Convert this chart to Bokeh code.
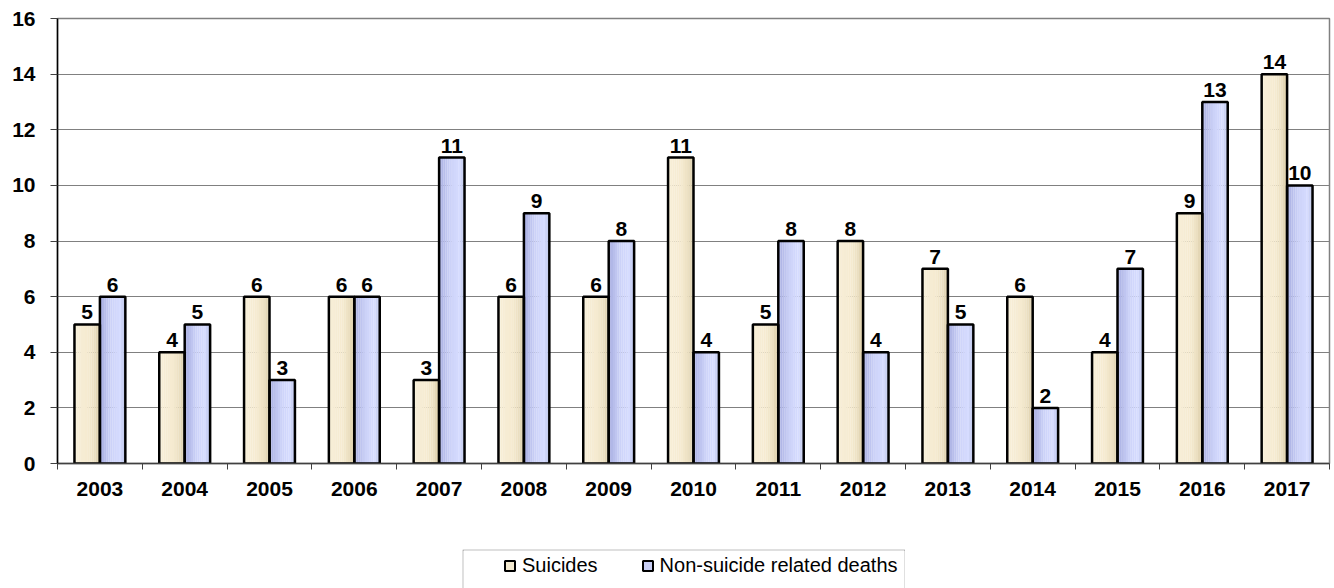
from bokeh.plotting import figure
from bokeh.models import FixedTicker, Range1d, Legend, LegendItem, Spacer
from bokeh.layouts import column, row
from bokeh.embed import file_html
from bokeh.resources import INLINE
from bokeh.core.properties import value
import numpy as np

years = ["2003", "2004", "2005", "2006", "2007", "2008", "2009", "2010",
         "2011", "2012", "2013", "2014", "2015", "2016", "2017"]
suicides = [5, 4, 6, 6, 3, 6, 6, 11, 5, 8, 7, 6, 4, 9, 14]
non_suicide = [6, 5, 3, 6, 11, 9, 8, 4, 8, 4, 5, 2, 7, 13, 10]
series_names = ["Suicides", "Non-suicide related deaths"]

FONT = "Liberation Sans"
BW = 0.30  # bar width in category units

p = figure(width=1334, height=549, output_backend="svg", toolbar_location=None,
           x_range=Range1d(0, len(years)), y_range=Range1d(0, 16),
           min_border_left=57, min_border_top=18, min_border_bottom=86,
           min_border_right=5)
p.background_fill_color = "white"
p.outline_line_color = "#808080"
p.outline_line_width = 1.5

centers = np.arange(len(years)) + 0.5
xs_s = centers - BW / 2
xs_n = centers + BW / 2


def hex_mix(c1, c2, t):
    a = [int(c1[i:i + 2], 16) for i in (1, 3, 5)]
    b = [int(c2[i:i + 2], 16) for i in (1, 3, 5)]
    return "#%02x%02x%02x" % tuple(round(a[k] + (b[k] - a[k]) * t) for k in range(3))


def grad(stops, t):
    for (t0, c0), (t1, c1) in zip(stops, stops[1:]):
        if t <= t1:
            return hex_mix(c0, c1, (t - t0) / (t1 - t0) if t1 > t0 else 0)
    return stops[-1][1]


stops_s = [(0.0, "#f8efd8"), (0.55, "#f5ead0"), (0.8, "#ebdfc0"), (1.0, "#d8caa5")]
stops_n = [(0.0, "#a6ade0"), (0.45, "#ccd2f8"), (0.8, "#d6dcff"), (1.0, "#b8c2e6")]

N = 12
for xs, vals, stops in ((xs_s, suicides, stops_s), (xs_n, non_suicide, stops_n)):
    sw = BW / N
    for k in range(N):
        t = (k + 0.5) / N
        p.vbar(x=xs - BW / 2 + sw * (k + 0.5), top=vals, bottom=0, width=sw * 1.05,
               fill_color=grad(stops, t), line_color=None)

p.vbar(x=xs_s, top=suicides, bottom=0, width=BW, fill_color=None,
       line_color="black", line_width=2.5)
p.vbar(x=xs_n, top=non_suicide, bottom=0, width=BW, fill_color=None,
       line_color="black", line_width=2.5)

# value labels
for xs, vals in ((xs_s, suicides), (xs_n, non_suicide)):
    p.text(x=xs, y=vals, text=[str(v) for v in vals], text_align="center",
           text_baseline="bottom", y_offset=-5, text_font=value(FONT),
           text_font_style="bold", text_font_size="21px", text_color="black")

# axes
p.yaxis.ticker = FixedTicker(ticks=list(range(0, 17, 2)))
p.yaxis.axis_line_color = "black"
p.yaxis.axis_line_width = 1.5
p.yaxis.major_tick_out = 7
p.yaxis.major_tick_in = 0
p.yaxis.major_tick_line_color = "#404040"
p.yaxis.minor_tick_line_color = None
p.yaxis.major_label_text_font = FONT
p.yaxis.major_label_text_font_style = "bold"
p.yaxis.major_label_text_font_size = "21px"
p.yaxis.major_label_text_color = "black"
p.yaxis.major_label_standoff = 15

p.xaxis.ticker = FixedTicker(ticks=list(centers), minor_ticks=list(range(0, len(years) + 1)))
p.xaxis.major_label_overrides = {float(c): y for c, y in zip(centers, years)}
p.xaxis.major_tick_line_color = None
p.xaxis.minor_tick_out = 6
p.xaxis.minor_tick_in = 0
p.xaxis.minor_tick_line_color = "#404040"
p.xaxis.axis_line_color = "#404040"
p.xaxis.axis_line_width = 1.5
p.xaxis.major_label_text_font = FONT
p.xaxis.major_label_text_font_style = "bold"
p.xaxis.major_label_text_font_size = "21px"
p.xaxis.major_label_text_color = "black"
p.xaxis.major_label_standoff = 12

p.xgrid.grid_line_color = None
p.ygrid.grid_line_color = "#808080"
p.ygrid.grid_line_width = 1

# legend panel (its gray border is the figure's border fill)
lg = figure(width=443, height=39, output_backend="svg", toolbar_location=None,
            x_range=Range1d(0, 1), y_range=Range1d(0, 1),
            min_border_left=1, min_border_right=1, min_border_top=1, min_border_bottom=0)
lg.axis.visible = False
lg.grid.visible = False
lg.outline_line_color = None
lg.border_fill_color = "#808080"
lg.background_fill_color = "white"
ls = lg.scatter(x=[-10], y=[-10], marker="square", size=10, fill_color="#f3e9cf",
                line_color="black", line_width=2)
ln = lg.scatter(x=[-10], y=[-10], marker="square", size=10, fill_color="#c8cef4",
                line_color="black", line_width=2)
legend = Legend(items=[LegendItem(label=series_names[0], renderers=[ls]),
                       LegendItem(label=series_names[1], renderers=[ln])],
                orientation="horizontal", location=(34, 10),
                label_text_font=FONT, label_text_font_size="20px", label_text_color="black",
                border_line_color=None, background_fill_alpha=0,
                glyph_width=25, glyph_height=25, label_standoff=-9, spacing=37,
                padding=0, margin=0, label_height=25)
lg.add_layout(legend, "center")

layout = column(p, row(Spacer(width=462), lg, spacing=0), spacing=0)

open("out.html", "w").write(file_html(layout, INLINE))
